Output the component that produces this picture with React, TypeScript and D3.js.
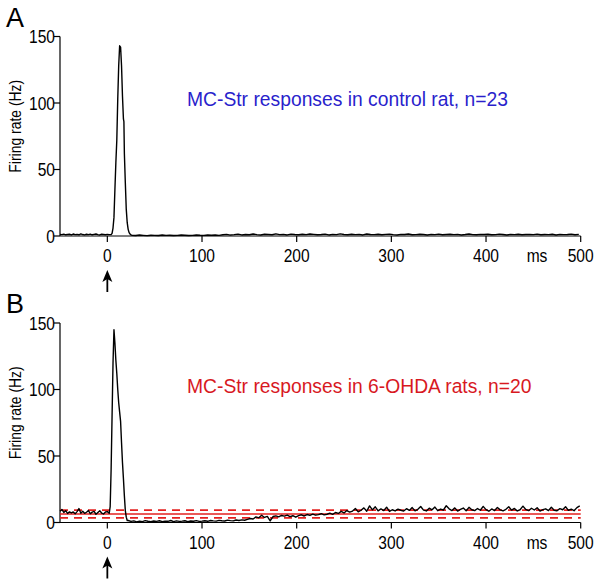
import React from "react";
import * as d3 from "d3";

// ---------- data ----------
const xTicks = [0, 100, 200, 300, 400, 500];
const yTicks = [0, 50, 100, 150];

// Panel A (control rat) — pre-stimulus bins (-50 ms, step 2 ms)
const aPreStart = -50, aPreStep = 2;
const aPre = [1.2, 1.0, 1.4, 0.9, 1.1, 1.3, 0.8, 1.5, 1.0, 1.2, 0.9, 1.6, 1.1, 0.8, 1.3, 1.0, 1.4, 0.9, 1.2, 1.5, 1.0, 0.8, 1.3, 1.1, 0.9, 1.2, 1.0];
// peak
const aPeakT = [4, 5, 6, 7, 8, 9, 10, 11, 12, 13, 14, 15, 16, 17, 17.5, 18, 19, 20, 21, 22, 23, 24, 25];
const aPeakV = [1, 2, 6, 14, 35, 55, 72, 103, 128, 143, 142, 128, 105, 88, 86, 62, 40, 20, 10, 5, 2.5, 1.5, 0.8];
// post (26 ms, step 4 ms)
const aPostStart = 26, aPostStep = 4;
const aPost = [0.6, 0.4, 0.7, 0.5, 0.3, 0.6, 0.5, 0.4, 0.7, 0.5, 0.6, 0.4, 0.5, 0.7, 0.6, 0.4, 0.5, 0.8, 0.6, 0.5, 0.7, 0.6, 0.8, 0.5,
  0.9, 1.2, 0.7, 1.0, 1.4, 0.8, 1.1, 0.9, 1.5, 1.0, 0.8, 1.3, 1.1, 0.9, 1.6, 1.0, 1.2, 0.8, 1.4, 1.1, 0.9, 1.3, 1.0, 1.5, 1.2, 0.9, 1.1, 1.4, 0.8, 1.2, 1.0, 1.6, 1.1, 0.9, 1.3, 1.0, 1.2, 0.8, 1.5, 1.1, 1.0, 1.3, 0.9, 1.2, 1.4, 1.0, 0.8, 1.2, 1.1, 1.5, 0.9, 1.0, 1.3, 1.1, 0.8, 1.2, 1.0, 1.4, 0.9, 1.1, 1.3, 1.0, 1.2, 0.8, 1.1, 1.5, 1.0, 0.9, 1.2, 1.1, 1.3, 0.9, 1.0, 1.4, 1.1, 0.8, 1.2, 1.0, 1.3, 0.9, 1.1, 1.2, 1.0, 1.4, 0.9, 1.1, 1.0, 1.3, 0.8, 1.2, 1.0, 1.1, 1.4, 0.9, 1.2];

// Panel B (6-OHDA rats)
const bPreStart = -50, bPreStep = 2;
const bPre = [8.5, 9.8, 7.6, 8.9, 6.8, 8.0, 7.2, 7.9, 6.5, 8.2, 10.5, 7.0, 8.4, 6.9, 7.7, 9.0, 6.6, 7.8, 8.3, 6.2, 7.5, 8.8, 7.1, 6.4, 7.9, 8.2, 7.0];
const bPeakT = [3, 4, 5, 6, 7, 8, 9, 10, 11, 12, 13, 14, 15, 16, 17, 18, 19, 20, 21];
const bPeakV = [12, 40, 80, 120, 145, 135, 122, 112, 100, 90, 83, 76, 60, 45, 33, 20, 9, 4, 1.5];
const bPostStart = 22, bPostStep = 3;
const bPost = [1.5, 0.8, 1.2, 0.5, 1.0, 0.7, 1.4, 0.9, 0.6, 1.1, 0.8, 1.3, 0.6, 1.0, 0.9, 1.5, 0.7, 1.2, 0.8, 1.0, 1.3, 0.6, 1.1, 0.9, 1.4, 0.8,
  1.0, 1.3, 0.9, 1.5, 1.2, 1.0, 1.6, 1.3, 1.1, 1.8, 1.4, 1.2, 1.9, 1.5, 2.0, 1.7, 2.4,
  3.0, 2.6, 4.2, 3.5, 5.5, 3.8, 4.6,
  1.2,
  4.5, 5.0, 4.2, 5.3, 4.8, 5.6, 4.4, 5.1, 4.0,
  5.2, 5.8, 4.9, 6.0, 5.4, 6.3, 5.5, 5.9, 6.6, 5.7, 6.2, 7.0, 6.1,
  7.5, 6.8, 8.4, 7.2, 9.0, 7.8, 8.6, 10.5, 8.0, 9.2, 11.0, 8.5, 12.5, 9.5, 11.8, 8.8, 10.2, 9.0, 11.5, 8.3, 9.6, 8.7, 10.0, 9.2,
  8.6, 10.4, 9.1, 11.2, 8.8, 9.9, 12.0, 9.3, 8.7, 10.8, 9.5, 11.6, 8.9, 10.1, 9.4, 12.6, 10.3, 9.0, 11.0, 8.6, 9.8, 10.9, 8.8, 11.4, 9.6, 8.9, 10.5, 9.2, 12.1, 9.7, 8.5, 10.2, 9.0, 11.3, 9.5, 8.8, 9.9, 11.8, 9.3, 10.6, 8.7, 9.6, 12.3, 9.8, 8.9, 10.7, 9.4, 11.1, 8.6, 9.7, 10.3, 9.0, 11.5, 9.2, 8.8, 10.4, 9.6, 11.9, 9.1, 10.0, 8.9, 11.2, 12.5];
const bMean = 6.4;
const bSd = 2.9;

const titleA = "MC-Str responses in control rat, n=23";
const titleB = "MC-Str responses in 6-OHDA rats, n=20";

// ---------- helpers ----------
type P = [number, number];
function seg(start: number, step: number, vals: number[]): P[] {
  return vals.map((v, i) => [start + i * step, v] as P);
}
function join(...parts: P[][]): P[] {
  return parts.flat().filter((p) => p[0] <= 500).sort((a, b) => a[0] - b[0]);
}

const seriesA = join(seg(aPreStart, aPreStep, aPre), aPeakT.map((t, i) => [t, aPeakV[i]] as P), seg(aPostStart, aPostStep, aPost));
const seriesB = join(seg(bPreStart, bPreStep, bPre), bPeakT.map((t, i) => [t, bPeakV[i]] as P), seg(bPostStart, bPostStep, bPost));

const sans = "'Liberation Sans', Arial, sans-serif";

// condensed text: Liberation Sans squeezed horizontally (Arial Narrow look)
function NText({ x, y, anchor = "start", size, rotate = 0, children }: {
  x: number; y: number; anchor?: string; size: number; rotate?: number; children: React.ReactNode;
}) {
  return (
    <g transform={`translate(${x},${y}) rotate(${rotate})`}>
      <text transform="scale(0.82,1)" textAnchor={anchor} fontFamily={sans} fontSize={size}>{children}</text>
    </g>
  );
}

const x = d3.scaleLinear().domain([-50, 500]).range([60, 580.7]);

function Panel({ y0, y150, data, letter, title, color, band }: {
  y0: number; y150: number; data: P[]; letter: string; title: string; color: string; band: boolean;
}) {
  const y = d3.scaleLinear().domain([0, 150]).range([y0, y150]);
  const line = d3.line<P>().x((d) => x(d[0])).y((d) => y(d[1]));
  const tipY = y0 + 34;
  const ax = x(-50);
  return (
    <g>
      <text x={6} y={y150 - 10} fontFamily={sans} fontSize={27}>{letter}</text>
      {/* y axis */}
      <line x1={ax} x2={ax} y1={y(0)} y2={y(150)} stroke="#000" strokeWidth={1.2} />
      {yTicks.map((t) => (
        <g key={t}>
          <line x1={ax - 6} x2={ax} y1={y(t)} y2={y(t)} stroke="#000" strokeWidth={1.2} />
          <NText x={ax - 5} y={y(t) + 6.5} anchor="end" size={19}>{t}</NText>
        </g>
      ))}
      <NText x={20.5} y={(y(0) + y(150)) / 2 - 10} anchor="middle" size={17} rotate={-90}>Firing rate (Hz)</NText>
      {/* x axis */}
      <line x1={ax} x2={x(500)} y1={y(0)} y2={y(0)} stroke="#000" strokeWidth={1.2} />
      {xTicks.map((t) => (
        <g key={t}>
          <line x1={x(t)} x2={x(t)} y1={y(0)} y2={y(0) + 6} stroke="#000" strokeWidth={1.2} />
          <NText x={x(t)} y={y(0) + 26} anchor="middle" size={19}>{t}</NText>
        </g>
      ))}
      <NText x={537} y={y(0) + 26} anchor="middle" size={19}>ms</NText>
      {band && (
        <g stroke="#e3201f" strokeWidth={1.6} fill="none">
          <line x1={ax} x2={x(500)} y1={y(bMean)} y2={y(bMean)} />
          <line x1={ax} x2={x(500)} y1={y(bMean + bSd)} y2={y(bMean + bSd)} strokeDasharray="8 6" />
          <line x1={ax} x2={x(500)} y1={y(bMean - bSd)} y2={y(bMean - bSd)} strokeDasharray="8 6" />
        </g>
      )}
      <path d={line(data) || ""} fill="none" stroke="#000" strokeWidth={1.4} strokeLinejoin="round" />
      {/* stimulus arrow */}
      <line x1={x(0)} x2={x(0)} y1={tipY + 8} y2={tipY + 22} stroke="#000" strokeWidth={1.8} />
      <path d={`M${x(0)},${tipY} L${x(0) - 5},${tipY + 12} L${x(0)},${tipY + 9} L${x(0) + 5},${tipY + 12} Z`} fill="#000" />
      <text x={187} y={y150 + 69.5} fontFamily={sans} fontSize={19.3} fill={color}>{title}</text>
    </g>
  );
}

export default function App() {
  return (
    <svg width={601} height={583} style={{ display: "block", position: "absolute", left: 0, top: 0, background: "#fff" }}>
      <rect width={601} height={583} fill="#fff" />
      <Panel y0={236} y150={36.5} data={seriesA} letter="A" title={titleA} color="#2a1fcc" band={false} />
      <Panel y0={522.5} y150={323} data={seriesB} letter="B" title={titleB} color="#d8191f" band={true} />
    </svg>
  );
}
